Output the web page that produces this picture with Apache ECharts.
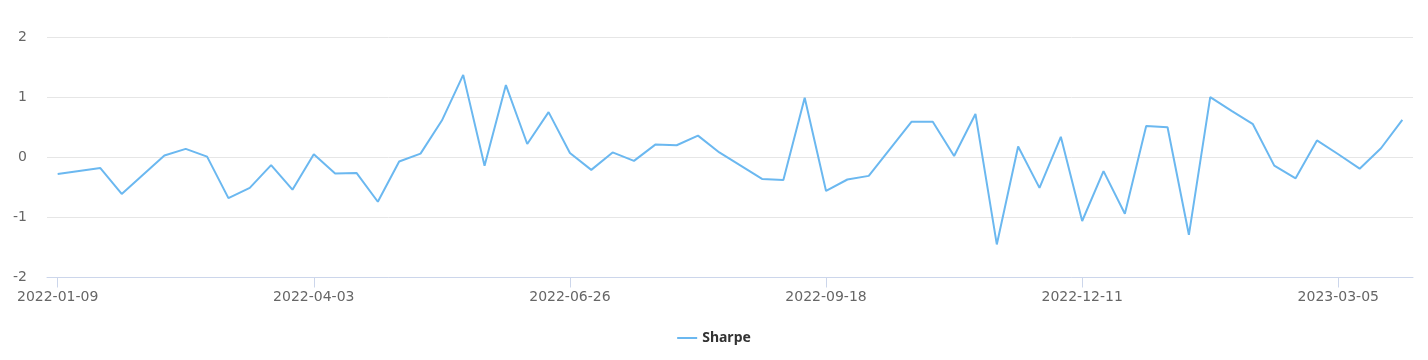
<!DOCTYPE html>
<html><head><meta charset="utf-8">
<script src="https://cdn.jsdelivr.net/npm/echarts@6/dist/echarts.min.js"></script>
<style>html,body{margin:0;padding:0;background:#fff}#c{width:1428px;height:360px}</style>
</head><body><div id="c"></div>
<script>
const dates = [
'2022-01-09','2022-01-16','2022-01-23','2022-01-30','2022-02-06','2022-02-13','2022-02-20','2022-02-27',
'2022-03-06','2022-03-13','2022-03-20','2022-03-27','2022-04-03','2022-04-10','2022-04-17','2022-04-24',
'2022-05-01','2022-05-08','2022-05-15','2022-05-22','2022-05-29','2022-06-05','2022-06-12','2022-06-19',
'2022-06-26','2022-07-03','2022-07-10','2022-07-17','2022-07-24','2022-07-31','2022-08-07','2022-08-14',
'2022-08-21','2022-08-28','2022-09-04','2022-09-11','2022-09-18','2022-09-25','2022-10-02','2022-10-09',
'2022-10-16','2022-10-23','2022-10-30','2022-11-06','2022-11-13','2022-11-20','2022-11-27','2022-12-04',
'2022-12-11','2022-12-18','2022-12-25','2023-01-01','2023-01-08','2023-01-15','2023-01-22','2023-01-29',
'2023-02-05','2023-02-12','2023-02-19','2023-02-26','2023-03-05','2023-03-12','2023-03-19','2023-03-26'];
const sharpe = [
-0.28,-0.23,-0.18,-0.61,-0.29,0.03,0.14,0.01,
-0.68,-0.51,-0.13,-0.54,0.05,-0.27,-0.26,-0.74,
-0.07,0.06,0.61,1.37,-0.14,1.20,0.22,0.75,
0.07,-0.21,0.08,-0.06,0.21,0.20,0.36,0.08,
-0.14,-0.36,-0.38,0.99,-0.56,-0.37,-0.31,0.14,
0.59,0.59,0.02,0.72,-1.45,0.18,-0.51,0.34,
-1.06,-0.23,-0.94,0.52,0.50,-1.29,1.00,0.77,
0.55,-0.14,-0.35,0.28,0.05,-0.19,0.15,0.62];
const seriesName = 'Sharpe';

const chart = echarts.init(document.getElementById('c'));
chart.setOption({
  animation: false,
  textStyle: { fontFamily: 'DejaVu Sans, sans-serif' },
  grid: { left: 47, right: 15, top: 37, bottom: 82.5, containLabel: false },
  legend: {
    bottom: 10, left: 'center',
    itemWidth: 20, itemHeight: 12, itemGap: 10,
    textStyle: { color: '#333', fontSize: 14, fontWeight: 'bold', fontFamily: 'Noto Sans, sans-serif' },
    data: [{ name: seriesName, icon: 'path://M0,5L20,5L20,7L0,7Z' }]
  },
  xAxis: {
    type: 'category', data: dates, boundaryGap: true,
    axisLine: { onZero: false, lineStyle: { color: '#ccd6eb', width: 1 } },
    axisTick: { show: true, alignWithLabel: true, interval: 11, length: 10, lineStyle: { color: '#ccd6eb' } },
    axisLabel: { interval: 11, color: '#666', fontSize: 14, margin: 13 },
    splitLine: { show: false }
  },
  yAxis: {
    type: 'value', min: -2, max: 2, interval: 1,
    axisLine: { show: false }, axisTick: { show: false },
    axisLabel: { color: '#666', fontSize: 14, margin: 20 },
    splitLine: { lineStyle: { color: '#e6e6e6', width: 1 } }
  },
  series: [{
    name: seriesName, type: 'line', data: sharpe,
    symbol: 'none', showSymbol: false,
    lineStyle: { color: '#6bb8f0', width: 2 },
    itemStyle: { color: '#6bb8f0' }
  }]
});
</script></body></html>
